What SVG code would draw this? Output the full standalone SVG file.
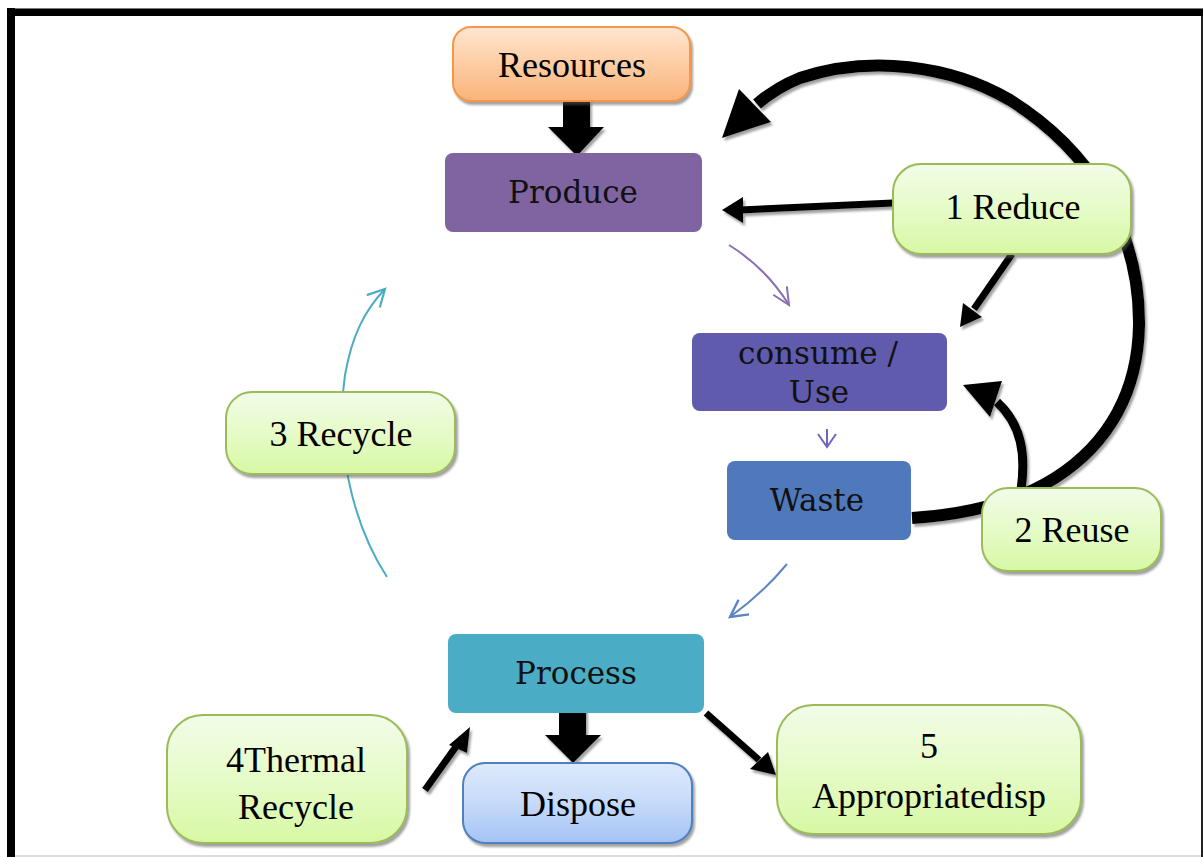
<svg xmlns="http://www.w3.org/2000/svg" width="1203" height="857" viewBox="0 0 1203 857">
<defs>
<linearGradient id="gOrange" x1="0" y1="0" x2="0" y2="1"><stop offset="0" stop-color="#FFE6D2"/><stop offset="0.5" stop-color="#FDCDA3"/><stop offset="1" stop-color="#FAB37A"/></linearGradient>
<linearGradient id="gGreen" x1="0" y1="0" x2="0" y2="1"><stop offset="0" stop-color="#F2FCE8"/><stop offset="0.5" stop-color="#E6FBC8"/><stop offset="1" stop-color="#D7F8A4"/></linearGradient>
<linearGradient id="gBlue" x1="0" y1="0" x2="0" y2="1"><stop offset="0" stop-color="#DEEAFC"/><stop offset="0.5" stop-color="#C6DAF9"/><stop offset="1" stop-color="#A5C3F5"/></linearGradient>
<filter id="sh" x="-10%" y="-10%" width="130%" height="130%"><feDropShadow dx="2" dy="3" stdDeviation="1.2" flood-color="#555" flood-opacity="0.55"/></filter>
<marker id="mPurple" markerUnits="userSpaceOnUse" markerWidth="30" markerHeight="30" viewBox="-20 -15 30 30" refX="0" refY="0" orient="auto"><path d="M-17,-8 L0,0 L-17,8" fill="none" stroke="#8A70B2" stroke-width="2"/></marker>
<marker id="mIndigo" markerUnits="userSpaceOnUse" markerWidth="30" markerHeight="30" viewBox="-20 -15 30 30" refX="0" refY="0" orient="auto"><path d="M-13,-9 L0,0 L-13,9" fill="none" stroke="#6D68BC" stroke-width="2"/></marker>
<marker id="mBlue" markerUnits="userSpaceOnUse" markerWidth="30" markerHeight="30" viewBox="-20 -15 30 30" refX="0" refY="0" orient="auto"><path d="M-17,-9 L0,0 L-17,9" fill="none" stroke="#5A84C6" stroke-width="2.4"/></marker>
<marker id="mTeal" markerUnits="userSpaceOnUse" markerWidth="30" markerHeight="30" viewBox="-20 -15 30 30" refX="0" refY="0" orient="auto"><path d="M-17,-9 L0,0 L-17,9" fill="none" stroke="#4BACC6" stroke-width="2.2"/></marker>
<style>
.tms{font-family:"Liberation Serif","Times New Roman",serif;font-size:36px;fill:#000;text-anchor:middle}
.cmb{font-family:"DejaVu Serif","Liberation Serif",serif;font-size:31px;fill:#111;text-anchor:middle}
.green{fill:url(#gGreen);stroke:#9BBB59;stroke-width:2}
.blk{fill:none;stroke:#000;stroke-linecap:butt}
.thin{fill:none;stroke-width:2}
</style>
</defs>
<rect width="1203" height="857" fill="#fff"/>
<g id="frame">
<rect x="7" y="8" width="1196" height="8" fill="#000"/>
<rect x="7" y="8" width="1196" height="1" fill="#777"/>
<rect x="7" y="8" width="8" height="849" fill="#000"/>
<rect x="1201" y="16" width="2" height="841" fill="#222"/>
<rect x="15" y="855" width="1186" height="2" fill="#ddd"/>
</g>
<g id="connectors">
<g filter="url(#sh)">
<path class="blk" stroke-width="12" d="M912,518 C975,514 1020,500 1055,478 C1110,443 1138,390 1139,325 C1140,230 1090,150 1010,100 C950,65 870,55 800,78 C785,84 770,93 757,104"/>
<polygon points="722,138 739,89 771,122" fill="#000"/>
<path class="blk" stroke-width="9" d="M1021,490 C1026,455 1022,425 997,402"/>
<polygon points="963,385 1002,381 990,417" fill="#000"/>
<line class="blk" stroke-width="7" x1="893" y1="203" x2="740" y2="210"/>
<polygon points="722,210 743,197 743,223" fill="#000"/>
<line class="blk" stroke-width="7" x1="1012" y1="254" x2="974" y2="309"/>
<polygon points="960,327 963,303 982,317" fill="#000"/>
<line class="blk" stroke-width="7" x1="425" y1="790" x2="460" y2="741"/>
<polygon points="470,727 449,745 467,753" fill="#000"/>
<line class="blk" stroke-width="7" x1="706" y1="713" x2="759" y2="760"/>
<polygon points="776,775 750,769 768,752" fill="#000"/>
<polygon points="563,100 590,100 590,127 604,127 577,156 548,127 563,127" fill="#000"/>
<polygon points="559,708 586,708 586,735 601,735 573,763 545,735 559,735" fill="#000"/>
</g>
<path class="thin" stroke="#8A70B2" d="M729,245 Q766,268 789,305" marker-end="url(#mPurple)"/>
<path class="thin" stroke="#6D68BC" d="M827,429 L827,447" marker-end="url(#mIndigo)"/>
<path class="thin" stroke="#5A84C6" stroke-width="2.4" d="M787,564 Q762,594 730,617" marker-end="url(#mBlue)"/>
<path class="thin" stroke="#4BACC6" stroke-width="2.2" d="M387,577 C350,520 335,440 345,375 C352,335 365,310 385,289" marker-end="url(#mTeal)"/>
</g>
<g id="resources">
<rect x="453" y="27" width="237" height="74" rx="18" fill="url(#gOrange)" stroke="#F79646" stroke-width="2" filter="url(#sh)"/>
<text class="tms" x="572" y="77">Resources</text>
</g>
<g id="produce">
<rect x="445" y="153" width="257" height="79" rx="8" fill="#8064A2"/>
<text class="cmb" x="573" y="203">Produce</text>
</g>
<g id="consume">
<rect x="692" y="333" width="255" height="78" rx="8" fill="#605BAD"/>
<text class="cmb" x="818" y="364">consume /</text>
<text class="cmb" x="819" y="403">Use</text>
</g>
<g id="waste">
<rect x="727" y="461" width="184" height="79" rx="8" fill="#5079BC"/>
<text class="cmb" x="817" y="511">Waste</text>
</g>
<g id="process">
<rect x="448" y="634" width="256" height="79" rx="8" fill="#4BACC6"/>
<text class="cmb" x="576" y="684">Process</text>
</g>
<g id="dispose">
<rect x="463" y="763" width="229" height="80" rx="22" fill="url(#gBlue)" stroke="#4F81BD" stroke-width="2" filter="url(#sh)"/>
<text class="tms" x="578" y="816">Dispose</text>
</g>
<g id="reduce">
<rect class="green" x="893" y="164" width="238" height="90" rx="28" filter="url(#sh)"/>
<text class="tms" x="1013" y="219">1 Reduce</text>
</g>
<g id="reuse">
<rect class="green" x="982" y="488" width="179" height="83" rx="26" filter="url(#sh)"/>
<text class="tms" x="1072" y="542">2 Reuse</text>
</g>
<g id="recycle">
<rect class="green" x="226" y="392" width="229" height="82" rx="26" filter="url(#sh)"/>
<text class="tms" x="341" y="446">3 Recycle</text>
</g>
<g id="thermal">
<rect class="green" x="167" y="715" width="240" height="128" rx="36" filter="url(#sh)"/>
<text class="tms" x="296" y="772">4Thermal</text>
<text class="tms" x="296" y="819">Recycle</text>
</g>
<g id="appropriate">
<rect class="green" x="777" y="705" width="304" height="129" rx="36" filter="url(#sh)"/>
<text class="tms" x="929" y="758">5</text>
<text class="tms" x="929" y="808">Appropriatedisp</text>
</g>
</svg>
